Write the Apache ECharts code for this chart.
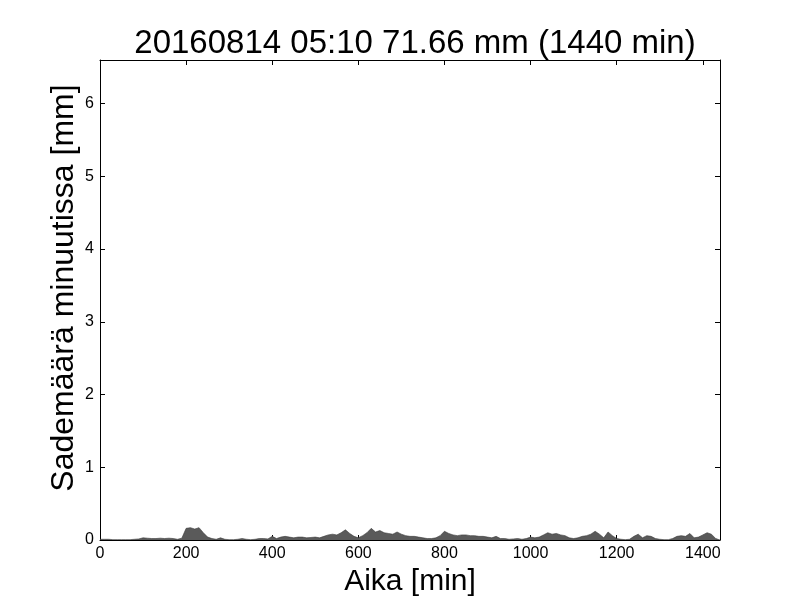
<!DOCTYPE html>
<html>
<head>
<meta charset="utf-8">
<script src="https://cdn.jsdelivr.net/npm/echarts@6/dist/echarts.min.js"></script>
<style>html,body{margin:0;padding:0;background:#fff}#c{width:800px;height:600px}</style>
</head>
<body>
<div id="c"></div>
<script>
// minutes at which rainfall was sampled (10-min spacing), values in mm per minute
const minutes = [];
for (let m = 0; m <= 1440; m += 10) minutes.push(m);
const rain = [
 0.01,0.01,0.01,0.005,0.005,0.005,0.005,0.005,0.01,0.015,
 0.03,0.025,0.02,0.02,0.025,0.02,0.025,0.02,0.01,0.025,
 0.16,0.17,0.15,0.17,0.10,0.04,0.02,0.01,0.03,0.01,
 0.005,0.005,0.01,0.02,0.01,0.005,0.01,0.02,0.02,0.015,
 0.05,0.02,0.04,0.05,0.04,0.03,0.04,0.04,0.03,0.035,
 0.04,0.03,0.05,0.07,0.08,0.07,0.10,0.14,0.09,0.05,
 0.03,0.06,0.10,0.16,0.11,0.13,0.10,0.09,0.08,0.11,
 0.08,0.06,0.05,0.05,0.04,0.03,0.02,0.02,0.03,0.06,
 0.12,0.09,0.07,0.06,0.07,0.07,0.06,0.06,0.05,0.05,
 0.04,0.03,0.05,0.02,0.02,0.01,0.015,0.02,0.01,0.02,
 0.04,0.03,0.04,0.07,0.10,0.08,0.09,0.07,0.06,0.03,
 0.02,0.03,0.05,0.06,0.08,0.12,0.08,0.03,0.11,0.06,
 0.02,0.01,0.005,0.01,0.05,0.08,0.03,0.06,0.05,0.02,
 0.01,0.005,0.005,0.02,0.05,0.06,0.05,0.09,0.03,0.04,
 0.07,0.10,0.08,0.02,0.0
];
const titleText = '20160814 05:10 71.66 mm (1440 min)';
const xName = 'Aika [min]';
const yName = 'Sademäärä minuutissa [mm]';

const data = minutes.map((m, i) => [m, rain[i]]);
const font = 'Liberation Sans, Arial, sans-serif';
const chart = echarts.init(document.getElementById('c'), null, {renderer: 'canvas'});
const axisCommon = {
  axisLine: {show: true, onZero: false, lineStyle: {color: '#000', width: 1}},
  axisTick: {show: true, inside: true, length: 5, lineStyle: {color: '#000'}},
  splitLine: {show: false}
};
const plain = v => String(v);
chart.setOption({
  animation: false,
  title: {text: titleText, left: 410, top: 22, textAlign: 'center',
    textStyle: {fontFamily: font, fontSize: 33, fontWeight: 'normal', color: '#000'}},
  grid: {left: 100, right: 80, top: 60, bottom: 60, containLabel: false, outerBoundsMode: 'none'},
  xAxis: [
    Object.assign({type: 'value', min: 0, max: 1440, interval: 200, position: 'bottom',
      name: xName, nameLocation: 'middle', nameGap: 23,
      nameTextStyle: {fontFamily: font, fontSize: 30, color: '#000'},
      axisLabel: {showMaxLabel: false, formatter: plain, fontFamily: font, fontSize: 16, color: '#000', margin: 6}}, axisCommon),
    Object.assign({type: 'value', min: 0, max: 1440, interval: 200, position: 'top',
      axisLabel: {show: false}}, axisCommon)
  ],
  yAxis: [
    Object.assign({type: 'value', min: 0, max: 6.6, interval: 1, position: 'left',
      name: yName, nameLocation: 'middle', nameGap: 20, nameMoveOverlap: false,
      nameTextStyle: {fontFamily: font, fontSize: 32, color: '#000', padding: [0, 0, 0, 24]},
      axisLabel: {showMaxLabel: false, formatter: plain, fontFamily: font, fontSize: 16, color: '#000', margin: 6}}, axisCommon),
    Object.assign({type: 'value', min: 0, max: 6.6, interval: 1, position: 'right',
      axisLabel: {show: false}}, axisCommon)
  ],
  series: [{
    type: 'line', data: data, xAxisIndex: 0, yAxisIndex: 0,
    showSymbol: false, symbol: 'none',
    lineStyle: {color: '#3a3a3a', width: 0.6},
    areaStyle: {color: '#5a5a5a', opacity: 1}
  }]
});
</script>
</body>
</html>
